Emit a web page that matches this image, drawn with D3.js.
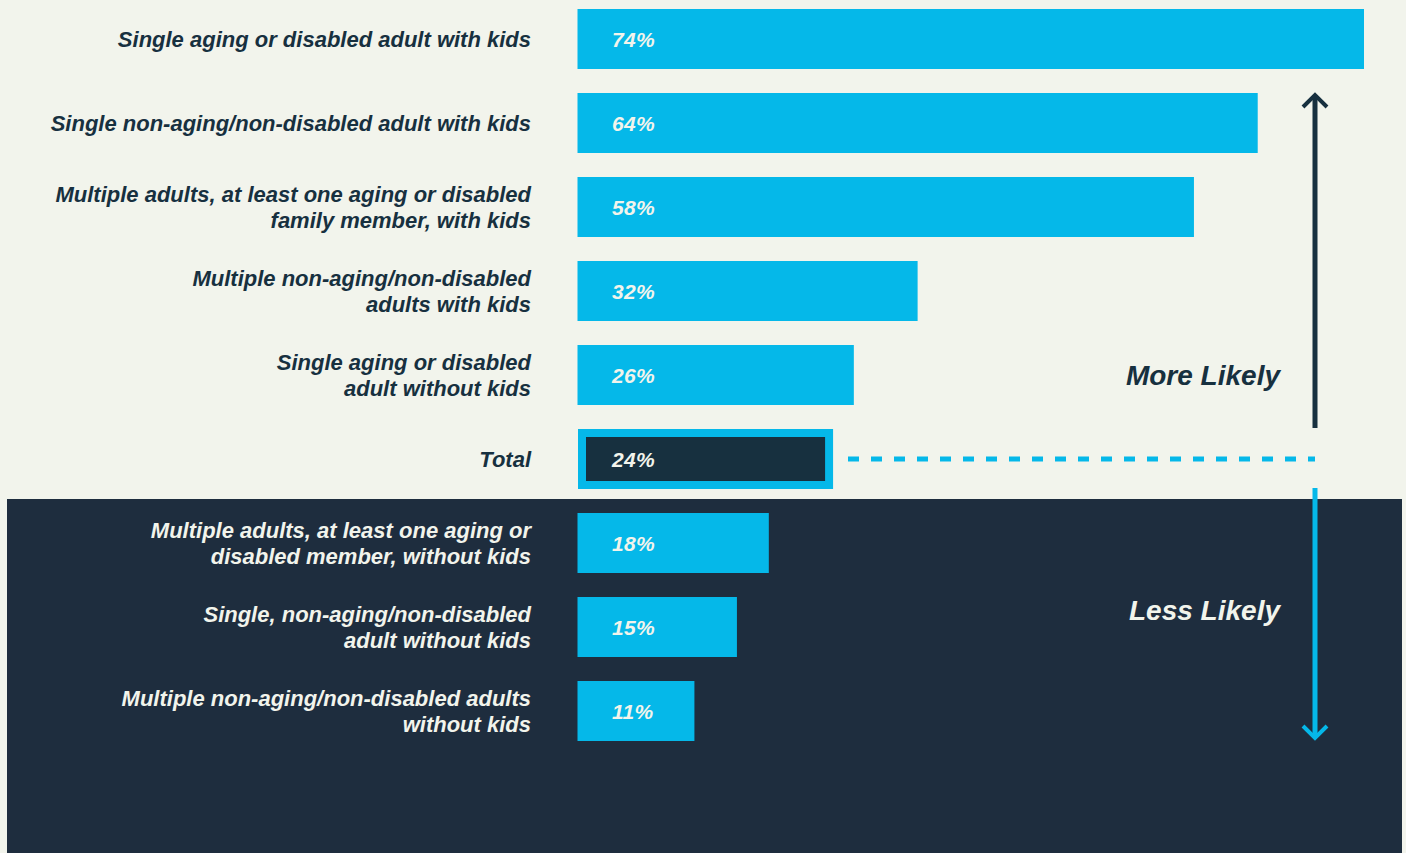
<!DOCTYPE html>
<html>
<head>
<meta charset="utf-8">
<script src="https://cdn.jsdelivr.net/npm/d3@7"></script>
<style>
  html, body { margin: 0; padding: 0; background: #f2f4ec; }
  svg { display: block; }
  text { font-family: "Liberation Sans", Arial, sans-serif; font-style: italic; font-weight: 700; }
</style>
</head>
<body>
<svg id="chart" width="1406" height="853"></svg>
<script>
// Household types (label lines) and share of households, in percent
const categories = [
  ["Single aging or disabled adult with kids"],
  ["Single non-aging/non-disabled adult with kids"],
  ["Multiple adults, at least one aging or disabled", "family member, with kids"],
  ["Multiple non-aging/non-disabled", "adults with kids"],
  ["Single aging or disabled", "adult without kids"],
  ["Total"],
  ["Multiple adults, at least one aging or", "disabled member, without kids"],
  ["Single, non-aging/non-disabled", "adult without kids"],
  ["Multiple non-aging/non-disabled adults", "without kids"]
];
const values = [74, 64, 58, 32, 26, 24, 18, 15, 11];
const valueLabels = ["74%", "64%", "58%", "32%", "26%", "24%", "18%", "15%", "11%"];
const totalIndex = 5;
const directionLabels = ["More Likely", "Less Likely"];

const W = 1406, H = 853;
const light = "#f2f4ec", dark = "#1e2d3e", navy = "#17303f", cyan = "#05b8e9";

const svg = d3.select("#chart");

const x = d3.scaleLinear().domain([0, 74]).range([577.5, 1364]);
const y = d3.scaleBand()
  .domain(d3.range(values.length))
  .range([-3, 753])
  .paddingInner(24 / 84)
  .paddingOuter(12 / 84);
const barH = y.bandwidth();
const mid = i => y(i) + barH / 2;

// Backgrounds: light upper panel, dark lower panel for the below-total rows
svg.append("rect").attr("width", W).attr("height", H).attr("fill", light);
svg.append("rect").attr("x", 7).attr("y", 499).attr("width", 1395).attr("height", H - 499).attr("fill", dark);

// Bars (the total gets its own outlined style)
svg.append("g").selectAll("rect").data(values).join("rect")
  .attr("x", (d, i) => i === totalIndex ? x(0) + 4.5 : x(0))
  .attr("y", (d, i) => i === totalIndex ? y(i) + 4 : y(i))
  .attr("width", (d, i) => i === totalIndex ? x(d) - x(0) - 8 : x(d) - x(0))
  .attr("height", (d, i) => i === totalIndex ? barH - 8 : barH)
  .attr("fill", (d, i) => i === totalIndex ? navy : cyan)
  .attr("stroke", (d, i) => i === totalIndex ? cyan : null)
  .attr("stroke-width", (d, i) => i === totalIndex ? 8 : null);

// Value labels inside the bars
svg.append("g").selectAll("text").data(valueLabels).join("text")
  .attr("x", 612)
  .attr("y", (d, i) => mid(i) + 8)
  .attr("fill", light)
  .attr("font-size", 21)
  .attr("letter-spacing", 0.3)
  .text(d => d);

// Category labels, right aligned, one or two lines
const labelG = svg.append("g").selectAll("text").data(categories).join("text")
  .attr("text-anchor", "end")
  .attr("font-size", 22)
  .attr("fill", (d, i) => i > totalIndex ? light : navy);
labelG.each(function (lines, i) {
  const c = mid(i);
  const base = lines.length === 1 ? c + 8 : c - 5;
  d3.select(this).selectAll("tspan").data(lines).join("tspan")
    .attr("x", 531)
    .attr("y", (d, k) => base + k * 26)
    .text(d => d);
});

// Dotted reference line for the total
const totalY = mid(totalIndex);
svg.append("line")
  .attr("x1", 848).attr("x2", 1315)
  .attr("y1", totalY).attr("y2", totalY)
  .attr("stroke", cyan).attr("stroke-width", 5)
  .attr("stroke-dasharray", "11,12");

// Direction arrows
const ax = 1315;
svg.append("line").attr("x1", ax).attr("x2", ax).attr("y1", 95).attr("y2", 428)
  .attr("stroke", navy).attr("stroke-width", 5);
svg.append("path").attr("d", `M${ax - 12},${107} L${ax},${95} L${ax + 12},${107}`)
  .attr("fill", "none").attr("stroke", navy).attr("stroke-width", 4);

svg.append("line").attr("x1", ax).attr("x2", ax).attr("y1", 488).attr("y2", 737)
  .attr("stroke", cyan).attr("stroke-width", 5);
svg.append("path").attr("d", `M${ax - 12},${726} L${ax},${738} L${ax + 12},${726}`)
  .attr("fill", "none").attr("stroke", cyan).attr("stroke-width", 4);

// Direction captions
svg.append("text").attr("x", 1280).attr("y", 385).attr("text-anchor", "end")
  .attr("font-size", 28).attr("fill", navy).text(directionLabels[0]);
svg.append("text").attr("x", 1280).attr("y", 620).attr("text-anchor", "end")
  .attr("font-size", 28).attr("fill", light).text(directionLabels[1]);
</script>
</body>
</html>
